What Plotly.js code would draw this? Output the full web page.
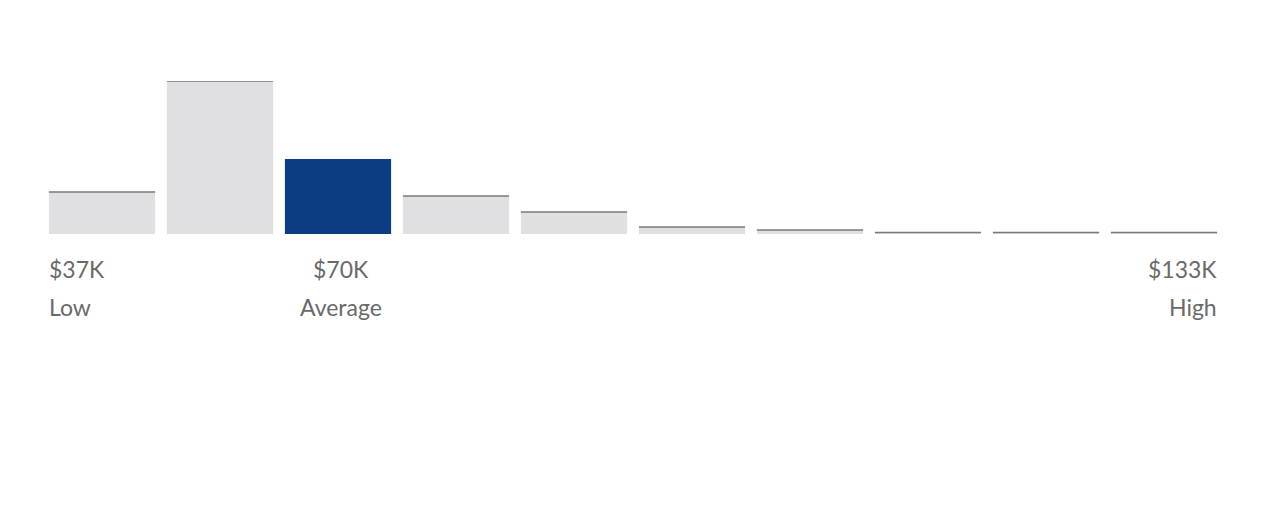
<!DOCTYPE html>
<html>
<head>
<meta charset="utf-8">
<script src="https://cdn.plot.ly/plotly-3.0.1.min.js"></script>
<style>
	html, body { margin: 0; padding: 0; background: #fff; }
	#graph-0 { width: 1280px; height: 518px; }
</style>
</head>
<body>
<div id="graph-0"></div>
<script>
/* global Plotly */

// salary distribution buckets, share of people per bucket
const bucketIndex = [0, 1, 2, 3, 4, 5, 6, 7, 8, 9];
const bucketShare = [42, 153, 75, 38, 22, 7, 4, 1.5, 1.5, 1.5];
const averageBucket = 2;

// labels under the bars
const labelBuckets = [0, 2, 9];
const labelValues = ["$37K", "$70K", "$133K"];
const labelNames = ["Low", "Average", "High"];
const labelAlign = ["left", "center", "right"];

const GREY = "#e0e0e2";
const BLUE = "#0c3d82";
const CAP = "#7a7a7a";
const TEXT = "#6a6a6a";
const HALF = 0.45;
const PLOT_H = 153;

const graphDiv = document.getElementById("graph-0");

const barTrace = {
	x: bucketIndex,
	y: bucketShare,
	type: "bar",
	marker: {
		color: bucketIndex.map(i => (i === averageBucket ? BLUE : GREY)),
		line: { width: 0 },
	},
	hoverinfo: "none",
};

// thin dark line on top of each grey bar
const capX = [];
const capY = [];
bucketIndex.forEach((i, k) => {
	if (i === averageBucket) return;
	capX.push(i - HALF, i + HALF, null);
	capY.push(bucketShare[k], bucketShare[k], null);
});
const capTrace = {
	x: capX,
	y: capY,
	type: "scatter",
	mode: "lines",
	line: { color: CAP, width: 1.5 },
	hoverinfo: "none",
};

const annotations = [];
labelBuckets.forEach((b, k) => {
	const align = labelAlign[k];
	const x = align === "left" ? b - HALF : align === "right" ? b + HALF : b;
	// cancel the annotation padding so text sits flush with the bar edge
	const shift = align === "left" ? -2 : align === "right" ? 2 : 3;
	[labelValues[k], labelNames[k]].forEach((text, row) => {
		annotations.push({
			x: x,
			xref: "x",
			xshift: shift,
			y: (row === 0 ? -35 : -73) / PLOT_H,
			yref: "paper",
			text: text,
			showarrow: false,
			xanchor: align,
			yanchor: "middle",
			font: { family: "Lato, sans-serif", size: 23, color: TEXT },
		});
	});
});

const layout = {
	width: 1280,
	height: 518,
	margin: { l: 43, r: 57, t: 81, b: 284 },
	paper_bgcolor: "#fff",
	plot_bgcolor: "#fff",
	showlegend: false,
	bargap: 0.1,
	xaxis: { range: [-0.5, 9.5], visible: false, fixedrange: true },
	yaxis: { range: [0, PLOT_H], visible: false, fixedrange: true },
	annotations: annotations,
};

Plotly.newPlot(graphDiv, [barTrace, capTrace], layout, { displayModeBar: false, staticPlot: true });
</script>
</body>
</html>
